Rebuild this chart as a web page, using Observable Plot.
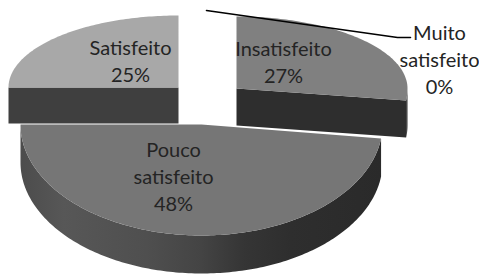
<!DOCTYPE html>
<html><head><meta charset="utf-8">
<script src="https://cdn.jsdelivr.net/npm/d3@7"></script>
<script src="https://cdn.jsdelivr.net/npm/@observablehq/plot@0.6"></script>
<style>html,body{margin:0;padding:0;background:#fff}#chart svg{display:block}</style>
</head><body><div id="chart"></div>
<script>
// ---- data ----
const categories = ["Insatisfeito", "Pouco satisfeito", "Satisfeito", "Muito satisfeito"];
const values = [27, 48, 25, 0];

// ---- layout (positions / styles) ----
const W = 479, H = 276;
const geom = {
  "Insatisfeito":     {cx: 236, cy: 88,  rx: 171, ryB: 72, ryF: 96,  depth: 37, top: "#808080", side: "#2e2e2e", lx: 283, ly: 60},
  "Pouco satisfeito": {cx: 201, cy: 124, rx: 181, ryB: 80, ryF: 111, depth: 38, top: "#767676", side: "url(#wallGrad)", lx: 173, ly: 175},
  "Satisfeito":       {cx: 178, cy: 87,  rx: 170, ryB: 72, ryF: 96,  depth: 36, top: "#a8a8a8", side: "#3f3f3f", lx: 130, ly: 59},
  "Muito satisfeito": {cx: 206, cy: 82,  rx: 171, ryB: 72, ryF: 96,  depth: 36, top: "#cccccc", side: "#333333", lx: 439, ly: 58}
};
const leader = {endDx: -29, bendDx: -42, dy: -21};

const data = categories.map((c, i) => ({cat: c, value: values[i]}));
const arcs = d3.pie().sort(null).value(d => d.value)(data);

function rim(g, a, dz = 0) {
  const c = Math.cos(a);
  return {x: g.cx + g.rx * Math.sin(a), y: g.cy - (c > 0 ? g.ryB : g.ryF) * c + dz};
}
function arcPts(g, a0, a1, dz = 0) {
  const n = Math.max(2, Math.ceil((a1 - a0) / (Math.PI / 180)));
  return d3.range(n + 1).map(i => rim(g, a0 + (a1 - a0) * i / n, dz));
}

const polys = [];
for (const a of arcs) {
  if (a.value <= 0) continue;
  const g = geom[a.data.cat];
  const a0 = a.startAngle, a1 = a.endAngle;
  const c = {x: g.cx, y: g.cy}, cb = {x: g.cx, y: g.cy + g.depth};
  const order = g.cy;
  // cut faces
  if (Math.sin(a0) < -1e-6) {
    const p = rim(g, a0), pb = rim(g, a0, g.depth);
    polys.push({order, k: 0, fill: g.side, pts: [c, p, pb, cb]});
  }
  if (Math.sin(a1) > 1e-6) {
    const p = rim(g, a1), pb = rim(g, a1, g.depth);
    polys.push({order, k: 0, fill: g.side, pts: [c, p, pb, cb]});
  }
  // outer wall (front-facing part)
  const lo = Math.max(a0, Math.PI / 2), hi = Math.min(a1, 3 * Math.PI / 2);
  if (hi > lo) {
    polys.push({order, k: 1, fill: g.side, pts: [...arcPts(g, lo, hi), ...arcPts(g, lo, hi, g.depth).reverse()]});
  }
  // top face
  polys.push({order, k: 2, fill: g.top, pts: [c, ...arcPts(g, a0, a1)]});
}
polys.sort((p, q) => p.order - q.order || p.k - q.k);

// leader line for the 0% slice
const zero = arcs.find(a => a.value === 0);
const zg = geom[zero.data.cat];
const lStart = rim(zg, zero.startAngle);
const lPts = [lStart, {x: zg.lx + leader.bendDx, y: zg.ly + leader.dy}, {x: zg.lx + leader.endDx, y: zg.ly + leader.dy}];

const chart = Plot.plot({
  width: W, height: H, margin: 0,
  x: {domain: [0, W], range: [0, W], axis: null},
  y: {domain: [0, H], range: [0, H], axis: null},
  marks: [
    ...polys.map(p => Plot.line(p.pts, {x: "x", y: "y", fill: p.fill, stroke: "none", curve: "linear-closed"})),
    Plot.line(lPts, {x: "x", y: "y", stroke: "#000", strokeWidth: 1.6}),
    Plot.text(arcs, {
      x: d => geom[d.data.cat].lx, y: d => geom[d.data.cat].ly,
      text: d => `${d.data.cat.replace(" ", "\n")}\n${d.data.value}%`,
      fontSize: 20, fontFamily: "Lato", lineHeight: 1.35, fill: "#242424", textAnchor: "middle"
    })
  ]
});

// gradient for the front wall
const ns = "http://www.w3.org/2000/svg";
const defs = document.createElementNS(ns, "defs");
const lg = document.createElementNS(ns, "linearGradient");
lg.setAttribute("id", "wallGrad");
lg.setAttribute("x1", "0"); lg.setAttribute("x2", "1"); lg.setAttribute("y1", "0"); lg.setAttribute("y2", "0");
[[0, "#4c4c4c"], [0.12, "#575757"], [0.35, "#4f4f4f"], [0.5, "#444444"], [0.62, "#353535"], [0.75, "#2e2e2e"], [1, "#2a2a2a"]]
  .forEach(([o, col]) => {
    const s = document.createElementNS(ns, "stop");
    s.setAttribute("offset", o); s.setAttribute("stop-color", col);
    lg.appendChild(s);
  });
defs.appendChild(lg);
chart.insertBefore(defs, chart.firstChild);
document.getElementById("chart").appendChild(chart);
</script>
</body></html>
